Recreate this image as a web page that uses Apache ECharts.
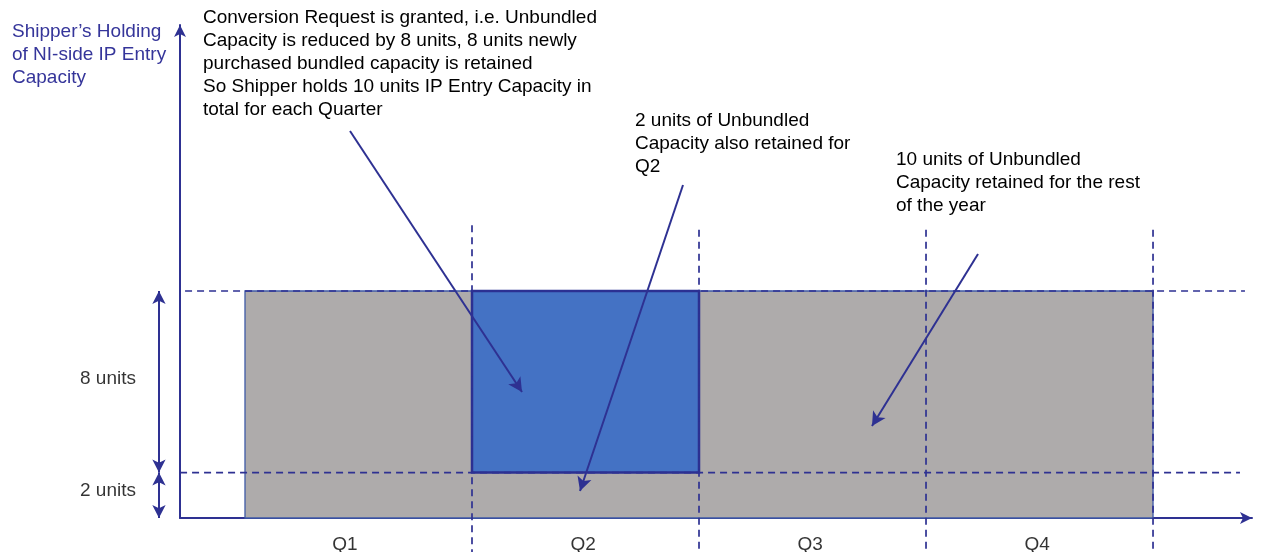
<!DOCTYPE html>
<html><head><meta charset="utf-8">
<script src="https://cdn.jsdelivr.net/npm/echarts@6/dist/echarts.min.js"></script>
<style>html,body{margin:0;padding:0;background:#fff}#c{width:1261px;height:552px}</style>
</head><body><div id="c"></div>
<script>
// x in quarters (0 = start of Q1), y in capacity units
const quarters = ['Q1', 'Q2', 'Q3', 'Q4'];
const quarterLabelX = [0.44, 1.49, 2.49, 3.49];
const quarterLabelY = -1.2;
const unbundledBlock = [0, 4, 0, 10];
const bundledBlock = [1, 2, 2, 10];
const levels = [10, 2];
const levelStart = [-0.264, -0.286];
const levelEnd = [4.405, 4.383];
const boundaries = [1, 2, 3, 4];
const boundaryTop = [12.9, 12.7, 12.7, 12.7];
const boundaryBottom = -1.5;
const dimLabels = ['8 units', '2 units'];
const dimRanges = [[10, 2], [2, 0]];
const dimLabelY = [6.12, 1.19];
const dimArrowX = -0.379;
const dimLabelX = -0.6035;
const arrowStarts = [[0.4626, 17.05], [1.9295, 14.67], [3.229, 11.63]];
const arrowEnds = [[1.2203, 5.55], [1.4758, 1.19], [2.762, 4.05]];
const yAxisTitle = 'Shipper\u2019s Holding\nof NI-side IP Entry\nCapacity';
const notes = [
  'Conversion Request is granted, i.e. Unbundled\nCapacity is reduced by 8 units, 8 units newly\npurchased bundled capacity is retained\nSo Shipper holds 10 units IP Entry Capacity in\ntotal for each Quarter',
  '2 units of Unbundled\nCapacity also retained for\nQ2',
  '10 units of Unbundled\nCapacity retained for the rest\nof the year'
];

const NAVY = '#2E3192';
const FONT = 'Liberation Sans, Arial, sans-serif';
const xMin = -0.2863, xMax = 4.436, yMax = 21.72;

const chart = echarts.init(document.getElementById('c'), null, {renderer: 'canvas'});

const txt = (color) => ({fontSize: 19, fontWeight: 'normal', color: color, lineHeight: 23, fontFamily: FONT});
const notePos = [[203, 6], [635, 109], [896, 148]];

const hiddenAxisBits = {axisTick: {show: false}, axisLabel: {show: false}, splitLine: {show: false}};

const series = [];

// blocks
series.push({
  type: 'custom', xAxisIndex: 0, yAxisIndex: 0, z: 1, silent: true,
  encode: {x: [0, 1], y: [2, 3]},
  data: [unbundledBlock.concat([0]), bundledBlock.concat([1])],
  renderItem: function (params, api) {
    const p0 = api.coord([api.value(0), api.value(3)]);
    const p1 = api.coord([api.value(1), api.value(2)]);
    const bundled = api.value(4) === 1;
    return {
      type: 'rect',
      shape: {x: p0[0], y: p0[1], width: p1[0] - p0[0], height: p1[1] - p0[1]},
      style: bundled ? {fill: '#4472C4', stroke: '#2B3092', lineWidth: 2.5}
                     : {fill: '#AEABAB', stroke: '#3F5AA6', lineWidth: 1.3}
    };
  }
});

// horizontal dashed levels
levels.forEach((lv, i) => {
  series.push({
    type: 'line', xAxisIndex: 0, yAxisIndex: 0, z: 3, silent: true, clip: false,
    symbol: 'none', data: [[levelStart[i], lv], [levelEnd[i], lv]],
    lineStyle: {color: NAVY, width: 1.7, type: [7, 5]}
  });
});

// vertical dashed quarter boundaries
boundaries.forEach((b, i) => {
  series.push({
    type: 'line', xAxisIndex: 0, yAxisIndex: 0, z: 3, silent: true, clip: false,
    symbol: 'none', data: [[b, boundaryTop[i]], [b, boundaryBottom]],
    lineStyle: {color: NAVY, width: 1.7, type: [7, 5]}
  });
});

// annotation arrows
series.push({
  type: 'line', xAxisIndex: 0, yAxisIndex: 0, z: 4, data: [],
  markLine: {
    silent: true, animation: false,
    symbol: ['none', 'arrow'], symbolSize: [11, 14],
    label: {show: false},
    lineStyle: {color: NAVY, width: 2, type: 'solid'},
    emphasis: {disabled: true},
    data: arrowStarts.map((s, i) => [{coord: s}, {coord: arrowEnds[i]}])
  }
});

// quarter labels
series.push({
  type: 'scatter', xAxisIndex: 0, yAxisIndex: 0, z: 5, silent: true, clip: false,
  symbolSize: 1, itemStyle: {color: 'transparent'},
  data: quarters.map((q, i) => ({name: q, value: [quarterLabelX[i], quarterLabelY]})),
  label: {show: true, position: 'inside', formatter: '{b}', fontSize: 19, color: '#000', fontFamily: FONT}
});

// dimension arrows (left)
series.push({
  type: 'line', xAxisIndex: 1, yAxisIndex: 1, z: 4, data: [],
  markLine: {
    silent: true, animation: false,
    symbol: ['arrow', 'arrow'], symbolSize: [10, 13],
    label: {show: false},
    lineStyle: {color: NAVY, width: 2, type: 'solid'},
    emphasis: {disabled: true},
    data: dimRanges.map(r => [{coord: [dimArrowX, r[0]]}, {coord: [dimArrowX, r[1]]}])
  }
});
series.push({
  type: 'scatter', xAxisIndex: 1, yAxisIndex: 1, z: 5, silent: true, clip: false,
  symbolSize: 1, itemStyle: {color: 'transparent'},
  data: dimLabels.map((t, i) => ({name: t, value: [dimLabelX, dimLabelY[i]]})),
  label: {show: true, position: 'inside', formatter: '{b}', fontSize: 19, color: '#000', fontFamily: FONT}
});

chart.setOption({
  animation: false,
  backgroundColor: '#fff',
  title: [{text: yAxisTitle, left: 12, top: 20, padding: 0, textStyle: txt('#35359A')}]
    .concat(notes.map((n, i) => ({text: n, left: notePos[i][0], top: notePos[i][1], padding: 0, textStyle: txt('#000')}))),
  grid: [
    {left: 180, right: 9, top: 25, bottom: 34, outerBoundsMode: 'none'},
    {left: 0, width: 180, top: 25, bottom: 34, outerBoundsMode: 'none'}
  ],
  xAxis: [
    Object.assign({type: 'value', gridIndex: 0, min: xMin, max: xMax,
      axisLine: {show: true, onZero: false, symbol: ['none', 'arrow'], symbolSize: [9, 12],
        lineStyle: {color: NAVY, width: 2}}}, hiddenAxisBits),
    Object.assign({type: 'value', gridIndex: 1, min: -1.0793, max: xMin, axisLine: {show: false}}, hiddenAxisBits)
  ],
  yAxis: [
    Object.assign({type: 'value', gridIndex: 0, min: 0, max: yMax,
      axisLine: {show: true, onZero: false, symbol: ['none', 'arrow'], symbolSize: [9, 12],
        lineStyle: {color: NAVY, width: 2}}}, hiddenAxisBits),
    Object.assign({type: 'value', gridIndex: 1, min: 0, max: yMax, axisLine: {show: false}}, hiddenAxisBits)
  ],
  series: series
});
</script></body></html>
